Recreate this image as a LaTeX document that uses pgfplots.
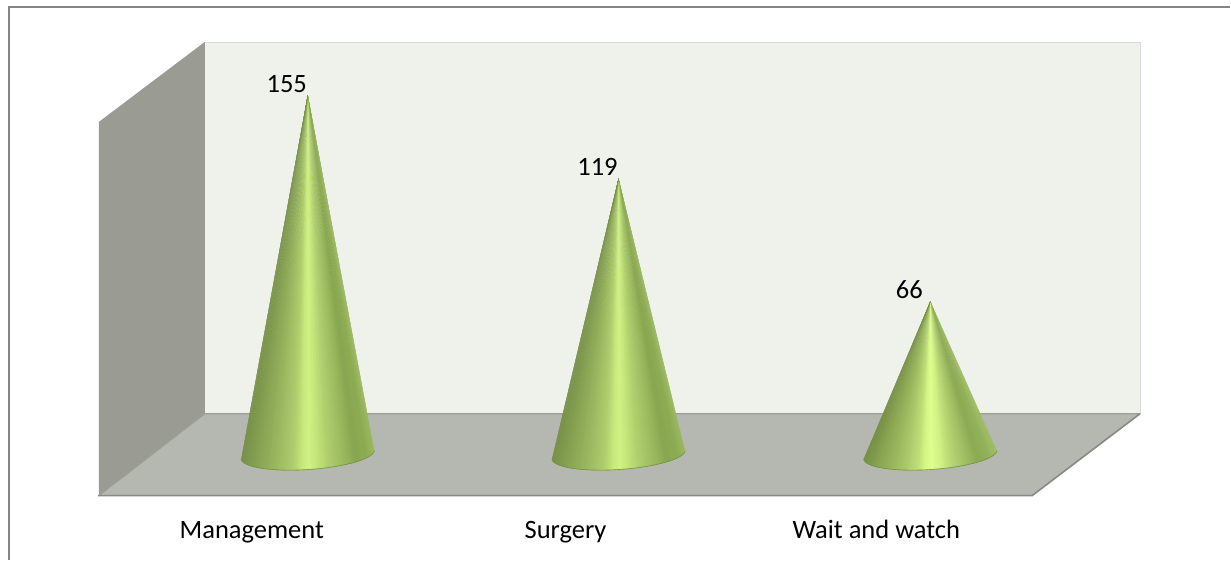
\documentclass[border=0pt]{standalone}
\usepackage{fontspec}
\setmainfont{Carlito}
\usepackage{pgfplots}
\pgfplotsset{compat=1.18}

% Shading across a cone, from its left silhouette (0) to its right one (100)
\pgfplotsset{
  colormap={coneA}{
    rgb255(0cm)=(154,184,94); rgb255(6cm)=(140,172,82); rgb255(14cm)=(136,166,80);
    rgb255(20cm)=(150,180,90); rgb255(28cm)=(164,194,102); rgb255(36cm)=(178,210,112);
    rgb255(42cm)=(192,226,120); rgb255(49cm)=(208,242,132); rgb255(54cm)=(198,232,124);
    rgb255(60cm)=(178,208,110); rgb255(70cm)=(160,190,100); rgb255(80cm)=(146,174,90);
    rgb255(90cm)=(134,160,82); rgb255(100cm)=(118,144,72)},
  colormap={coneB}{
    rgb255(0cm)=(160,190,100); rgb255(6cm)=(146,178,90); rgb255(14cm)=(140,170,84);
    rgb255(20cm)=(154,184,94); rgb255(28cm)=(172,202,108); rgb255(36cm)=(190,222,120);
    rgb255(42cm)=(208,242,132); rgb255(49cm)=(222,255,142); rgb255(54cm)=(212,246,134);
    rgb255(60cm)=(190,220,118); rgb255(70cm)=(168,198,104); rgb255(80cm)=(152,180,92);
    rgb255(90cm)=(138,164,82); rgb255(100cm)=(118,144,70)},
}

% One cone: #1 apex x, #2 value, #3 colour map; its surface is a fan of slices
\newcommand{\cone}[3]{%
  \pgfplotsinvokeforeach{-16,-14,...,162}{%
    \pgfmathsetmacro{\xa}{#1+64*cos(##1)-18*sin(##1)}%
    \pgfmathsetmacro{\ya}{-6.68*sin(##1)}%
    \pgfmathsetmacro{\xb}{#1+64*cos(##1+3)-18*sin(##1+3)}%
    \pgfmathsetmacro{\yb}{-6.68*sin(##1+3)}%
    \pgfmathsetmacro{\cv}{int(500-500*((64*cos(##1+1)-18*sin(##1+1))/66.5))}%
    \edef\slice{\noexpand\addplot[color of colormap={\cv\space of #3},fill=.,draw=none]
      coordinates {(#1,#2) (\xa,\ya) (\xb,\yb)} -- cycle;}%
    \slice
    \edef\rim{\noexpand\addplot[draw={rgb,255:red,118;green,150;blue,62},line width=0.6pt,line cap=round]
      coordinates {(\xa,\ya) (\xb,\yb)};}%
    \rim
  }%
}

\definecolor{wallback}{RGB}{239,241,235}
\definecolor{wallside}{RGB}{154,156,148}
\definecolor{floorc}{RGB}{181,184,176}

\begin{document}
\begin{tikzpicture}
\begin{axis}[
  scale only axis, width=1231pt, height=560pt,
  xmin=0, xmax=1231, ymin=-45.26, ymax=196.1,
  axis line style={draw=none}, tick style={draw=none},
  ytick=\empty,
  xtick={252,566,877},
  xticklabels={Management,Surgery,Wait and watch},
  x tick label style={font=\fontsize{26.5}{32}\selectfont, anchor=base, yshift=21pt},
  clip=false,
]
% outer frame: only its top and left edges fall inside the picture
\addplot[draw={rgb,255:red,134;green,134;blue,134},line width=2pt]
  coordinates {(1231,192.9) (9,192.9) (9,-45.26)};
% back wall
\addplot[fill=wallback,draw={rgb,255:red,216;green,218;blue,213},line width=0.8pt]
  coordinates {(205,178.02) (1141,178.02) (1141,17.67) (205,17.67)} -- cycle;
% side wall
\addplot[fill=wallside,draw=none]
  coordinates {(99,143.53) (205,178.02) (205,17.67) (99,-17.67)} -- cycle;
% floor
\addplot[fill=floorc,draw=none]
  coordinates {(99,-17.67) (205,17.67) (1141,17.67) (1033,-17.67)} -- cycle;
\addplot[draw={rgb,255:red,158;green,158;blue,152},line width=1.2pt]
  coordinates {(99,-17.67) (205,17.67) (1141,17.67)};
\addplot[draw={rgb,255:red,136;green,136;blue,134},line width=1.6pt]
  coordinates {(1141,17.67) (1033,-17.67) (98,-17.67)};

\cone{308}{155}{coneA}
\cone{619}{119}{coneA}
\cone{931}{66}{coneB}

% value labels beside the apexes
\addplot[draw=none, mark=none,
  nodes near coords={\pgfmathprintnumber[assume math mode=true]{\pgfplotspointmeta}},
  every node near coord/.style={font=\fontsize{26.5}{32}\selectfont, anchor=base, xshift=-21pt, yshift=3pt, text=black}]
  coordinates {(308,155) (619,119) (931,66)};
\end{axis}
\end{tikzpicture}
\end{document}
